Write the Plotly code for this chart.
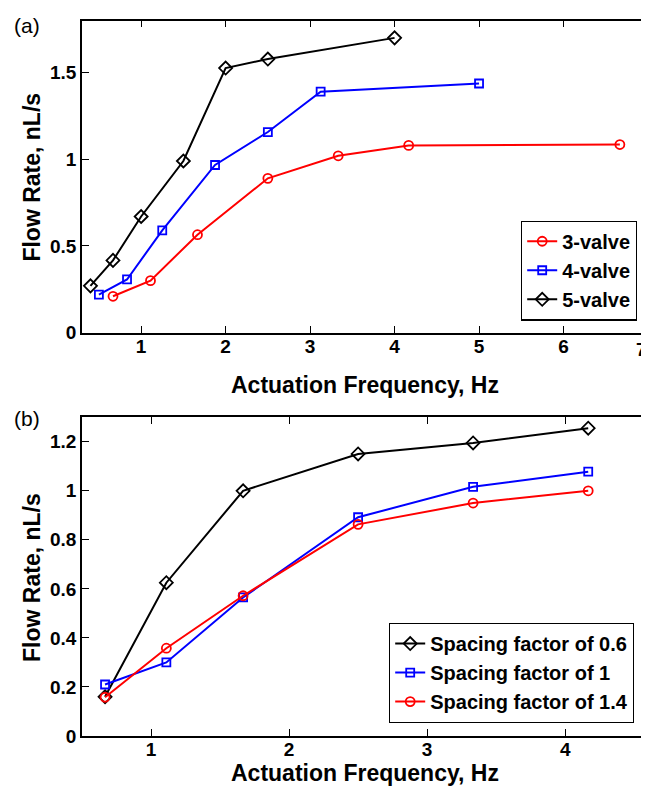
import plotly.graph_objects as go

# Panel (a)
a_x3 = [0.667, 1.111, 1.667, 2.5, 3.333, 4.167, 6.667]
a_y3 = [0.21, 0.30, 0.565, 0.89, 1.02, 1.08, 1.085]
a_x4 = [0.5, 0.833, 1.25, 1.875, 2.5, 3.125, 5.0]
a_y4 = [0.22, 0.307, 0.59, 0.967, 1.157, 1.39, 1.437]
a_x5 = [0.4, 0.667, 1.0, 1.5, 2.0, 2.5, 4.0]
a_y5 = [0.27, 0.417, 0.67, 0.99, 1.526, 1.578, 1.70]

# Panel (b)
b_x = [0.667, 1.111, 1.667, 2.5, 3.333, 4.167]
b_y06 = [0.16, 0.625, 1.0, 1.15, 1.195, 1.255]
b_y10 = [0.21, 0.30, 0.565, 0.892, 1.016, 1.078]
b_y14 = [0.158, 0.358, 0.572, 0.863, 0.95, 1.0]

a_xticks = [1, 2, 3, 4, 5, 6, 7]
a_xticklabels = ["1", "2", "3", "4", "5", "6", "7"]
a_yticks = [0, 0.5, 1, 1.5]
a_yticklabels = ["0", "0.5", "1", "1.5"]
b_xticks = [1, 2, 3, 4]
b_yticks = [0, 0.2, 0.4, 0.6, 0.8, 1.0, 1.2]
b_yticklabels = ["0", "0.2", "0.4", "0.6", "0.8", "1", "1.2"]

RED = "#ff0000"
BLUE = "#0000ff"
BLACK = "#000000"
FONT = "Liberation Sans, Arial, sans-serif"
W, H = 649, 788

fig = go.Figure()

SIZES = {"circle-open": 9, "square-open": 8, "diamond-open": 10}

def add(x, y, name, color, symbol, xa, ya, legend):
    fig.add_trace(go.Scatter(
        x=x, y=y, name=name, mode="lines+markers",
        line=dict(color=color, width=2),
        marker=dict(symbol=symbol, size=SIZES[symbol], color=color,
                    line=dict(color=color, width=1.8)),
        xaxis=xa, yaxis=ya, legend=legend,
    ))

add(a_x3, a_y3, "3-valve", RED, "circle-open", "x", "y", "legend")
add(a_x4, a_y4, "4-valve", BLUE, "square-open", "x", "y", "legend")
add(a_x5, a_y5, "5-valve", BLACK, "diamond-open", "x", "y", "legend")
add(b_x, b_y06, "Spacing factor of 0.6", BLACK, "diamond-open", "x2", "y2", "legend2")
add(b_x, b_y10, "Spacing factor of 1", BLUE, "square-open", "x2", "y2", "legend2")
add(b_x, b_y14, "Spacing factor of 1.4", RED, "circle-open", "x2", "y2", "legend2")

tick_font = dict(family=FONT, size=19, color="black", weight="bold")
axis_common = dict(
    showline=True, linecolor="black", linewidth=1.6, mirror="ticks",
    ticks="inside", ticklen=7, tickwidth=1.3, tickcolor="black",
    showgrid=False, zeroline=False, ticklabeloverflow="allow",
    tickfont=tick_font,
)
title_font = dict(family=FONT, size=23, color="black", weight="bold")
leg_font = dict(family=FONT, size=20, color="black", weight="bold")

x0, x1 = 74, 640
xdom = [x0 / W, x1 / W]
xc = (x0 + x1) / 2 / W

def py(p):
    return 1 - p / H

fig.update_layout(
    width=W, height=H,
    margin=dict(l=0, r=0, t=0, b=0),
    paper_bgcolor="white", plot_bgcolor="white",
    xaxis=dict(axis_common, domain=xdom, range=[0.3, 7], tickvals=a_xticks,
               ticktext=a_xticklabels[:-1] + [""], anchor="y", ticklabelstandoff=-4),
    yaxis=dict(axis_common, domain=[py(329.3), py(12.7)], range=[0, 1.8],
               tickvals=a_yticks, ticktext=a_yticklabels, anchor="x"),
    xaxis2=dict(axis_common, domain=xdom, range=[0.5, 4.6], tickvals=b_xticks,
                anchor="y2", ticklabelstandoff=-5),
    yaxis2=dict(axis_common, domain=[py(738.3), py(415)], range=[0, 1.3],
                tickvals=b_yticks, ticktext=b_yticklabels, anchor="x2"),
    legend=dict(x=629 / W, y=py(317), xanchor="right", yanchor="bottom",
                bordercolor="black", borderwidth=1.2, bgcolor="white",
                font=leg_font, tracegroupgap=0, itemwidth=30),
    legend2=dict(x=626 / W, y=py(725), xanchor="right", yanchor="bottom",
                 bordercolor="black", borderwidth=1.2, bgcolor="white",
                 font=leg_font, tracegroupgap=0, itemwidth=30),
    showlegend=True,
)

ann = [
    dict(text="(a)", x=4 / W, y=py(18), xanchor="left", yanchor="middle",
         font=dict(family=FONT, size=21, color="black")),
    dict(text="(b)", x=4 / W, y=py(416), xanchor="left", yanchor="middle",
         font=dict(family=FONT, size=21, color="black")),
    dict(text="Actuation Frequency, Hz", x=xc, y=py(382), xanchor="center",
         yanchor="middle", font=title_font),
    dict(text="Actuation Frequency, Hz", x=xc, y=py(776), xanchor="center",
         yanchor="middle", font=title_font),
    dict(text="Flow Rate, nL/s", x=24 / W, y=py(172), xanchor="center",
         yanchor="middle", textangle=-90, font=title_font),
    dict(text="Flow Rate, nL/s", x=24 / W, y=py(578), xanchor="center",
         yanchor="middle", textangle=-90, font=title_font),
    # last x tick label of panel (a), kept inside the visible page edge
    dict(text=a_xticklabels[-1], x=641 / W, y=py(346), xanchor="right",
         yanchor="middle", font=tick_font),
]
for a in ann:
    fig.add_annotation(xref="paper", yref="paper", showarrow=False, **a)

fig.write_html("out.html")
